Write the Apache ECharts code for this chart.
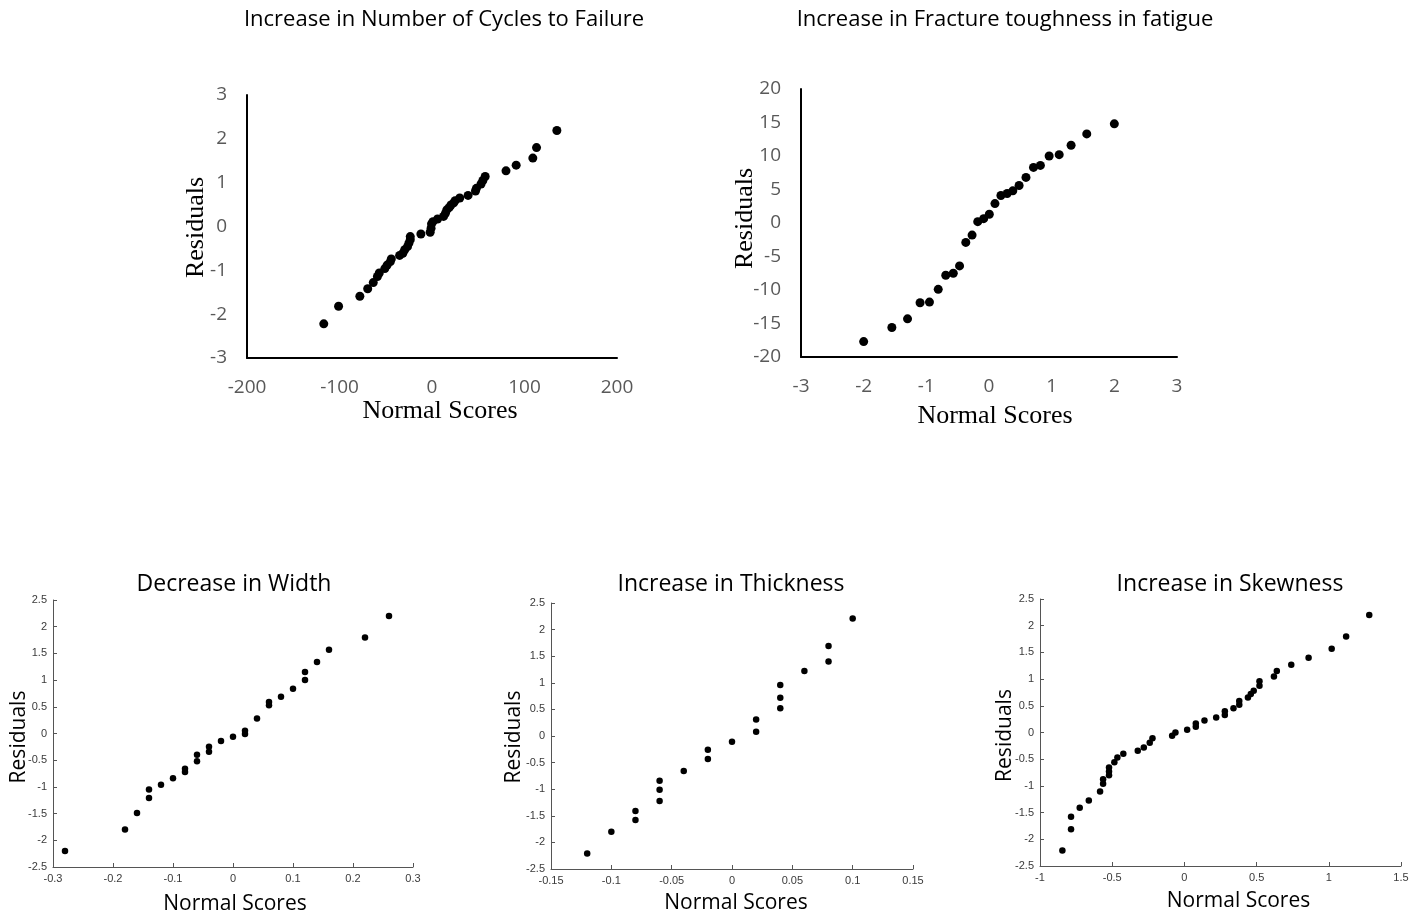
<!DOCTYPE html>
<html>
<head>
<meta charset="utf-8">
<script src="https://cdn.jsdelivr.net/npm/echarts@6/dist/echarts.min.js"></script>
<style>
  html, body { margin: 0; padding: 0; background: #fff; }
  #chart { width: 1424px; height: 917px; }
</style>
</head>
<body>
<div id="chart"></div>
<script>
// Normal probability plots of residuals for five responses.

// Increase in Number of Cycles to Failure
const cyclesScore = [-117, -101, -78, -69.5, -63.5, -59, -57, -51, -48.5, -45, -44, -35, -31.5, -29.5, -26.5,
  -25, -23.5, -23.5, -12, -2, -1, -0.5, 1, 6, 12.5, 14.5, 16, 18.5, 20.5, 23.5, 25, 30, 39, 47, 48,
  53, 55, 57.5, 80, 91, 109, 113, 135];
const cyclesResid = [-2.22, -1.82, -1.59, -1.42, -1.28, -1.14, -1.06, -0.96, -0.88, -0.80, -0.74, -0.66, -0.61, -0.53, -0.46,
  -0.38, -0.30, -0.23, -0.17, -0.13, -0.04, 0.06, 0.11, 0.17, 0.23, 0.30, 0.38, 0.43, 0.49, 0.54, 0.59, 0.65, 0.71, 0.81, 0.87,
  0.97, 1.05, 1.14, 1.27, 1.40, 1.56, 1.80, 2.19];

// Increase in Fracture toughness in fatigue
const toughScore = [-2.0, -1.55, -1.3, -1.1, -0.95, -0.81, -0.69, -0.57, -0.47, -0.37, -0.27, -0.18, -0.085, 0.005,
  0.095, 0.19, 0.29, 0.38, 0.48, 0.59, 0.71, 0.82, 0.96, 1.12, 1.31, 1.56, 2.0];
const toughResid = [-17.7, -15.6, -14.3, -11.9, -11.8, -9.9, -7.8, -7.5, -6.4, -2.9, -1.8, 0.2, 0.65, 1.3,
  2.9, 4.1, 4.4, 4.8, 5.6, 6.8, 8.3, 8.6, 10.0, 10.2, 11.6, 13.3, 14.8];

// Decrease in Width
const widthScore = [-0.28, -0.18, -0.16, -0.14, -0.14, -0.12, -0.10, -0.08, -0.08, -0.06, -0.06, -0.04, -0.04, -0.02,
  0, 0.02, 0.02, 0.04, 0.06, 0.06, 0.08, 0.10, 0.12, 0.12, 0.14, 0.16, 0.22, 0.26];
const widthResid = [-2.2, -1.8, -1.49, -1.05, -1.21, -0.96, -0.84, -0.66, -0.72, -0.40, -0.52, -0.25, -0.34, -0.14,
  -0.06, 0.05, -0.01, 0.28, 0.53, 0.59, 0.69, 0.84, 1.0, 1.15, 1.34, 1.57, 1.80, 2.2];

// Increase in Thickness
const thickScore = [-0.12, -0.10, -0.08, -0.08, -0.06, -0.06, -0.06, -0.04, -0.02, -0.02, 0, 0.02, 0.02, 0.04, 0.04, 0.04,
  0.06, 0.08, 0.08, 0.10];
const thickResid = [-2.21, -1.80, -1.41, -1.58, -0.84, -1.01, -1.22, -0.66, -0.26, -0.43, -0.11, 0.08, 0.31, 0.52, 0.72, 0.96,
  1.22, 1.40, 1.69, 2.21];

// Increase in Skewness
const skewScore = [-0.845, -0.785, -0.785, -0.725, -0.662, -0.584, -0.563, -0.563, -0.522, -0.522, -0.522, -0.485, -0.464,
  -0.423, -0.323, -0.281, -0.24, -0.221, -0.085, -0.062, 0.019, 0.079, 0.079, 0.139, 0.22, 0.28, 0.28, 0.34, 0.38, 0.38,
  0.44, 0.46, 0.48, 0.52, 0.52, 0.62, 0.64, 0.74, 0.86, 1.02, 1.12, 1.28];
const skewResid = [-2.21, -1.81, -1.58, -1.41, -1.275, -1.106, -0.96, -0.875, -0.80, -0.73, -0.656, -0.556, -0.47,
  -0.40, -0.344, -0.28, -0.19, -0.11, -0.0625, 0.0, 0.05, 0.11, 0.17, 0.225, 0.28, 0.33, 0.40, 0.456, 0.52, 0.59,
  0.656, 0.72, 0.78, 0.875, 0.96, 1.05, 1.15, 1.27, 1.40, 1.57, 1.80, 2.2];

const titles = ['Increase in Number of Cycles to Failure', 'Increase in Fracture toughness in fatigue',
  'Decrease in Width', 'Increase in Thickness', 'Increase in Skewness'];
const xName = 'Normal Scores';
const yName = 'Residuals';

const pairs = (xs, ys) => xs.map((x, i) => [x, ys[i]]);

// layout per panel: axis ranges [min, max, interval], grid box, axis-name gaps/shifts, title anchor
const panels = [
  { data: pairs(cyclesScore, cyclesResid), x: [-200, 200, 100], y: [-3, 3, 1],
    grid: { left: 247, top: 95, width: 370, height: 263 }, style: 'excel', title: [444, 20],
    xGap: 40, yGap: 38, xShift: 16, yShift: -2 },
  { data: pairs(toughScore, toughResid), x: [-3, 3, 1], y: [-20, 20, 5],
    grid: { left: 801, top: 89, width: 376, height: 268 }, style: 'excel', title: [1005, 20],
    xGap: 46, yGap: 43, xShift: 12, yShift: 9 },
  { data: pairs(widthScore, widthResid), x: [-0.3, 0.3, 0.1], y: [-2.5, 2.5, 0.5],
    grid: { left: 53, top: 600, width: 360, height: 267 }, style: 'matlab', title: [234, 584],
    xGap: 27, yGap: 23, xShift: 4, yShift: -7 },
  { data: pairs(thickScore, thickResid), x: [-0.15, 0.15, 0.05], y: [-2.5, 2.5, 0.5],
    grid: { left: 551, top: 603, width: 362, height: 266 }, style: 'matlab', title: [731, 584],
    xGap: 24, yGap: 26, xShift: 8, yShift: -2 },
  { data: pairs(skewScore, skewResid), x: [-1, 1.5, 0.5], y: [-2.5, 2.5, 0.5],
    grid: { left: 1040, top: 599, width: 361, height: 267 }, style: 'matlab', title: [1230, 584],
    xGap: 25, yGap: 24, xShift: 36, yShift: -6 }
];

const excelLabel = { color: '#595959', fontFamily: 'Open Sans', fontSize: 19, margin: 20 };
const matlabLabel = { color: '#3a3a3a', fontFamily: 'Liberation Sans', fontSize: 11, margin: 6 };

function axis(p, dir, idx) {
  const r = dir === 'x' ? p.x : p.y;
  const excel = p.style === 'excel';
  const shift = dir === 'x' ? p.xShift : p.yShift;
  return {
    type: 'value', gridIndex: idx, min: r[0], max: r[1], interval: r[2],
    name: dir === 'x' ? xName : yName,
    nameLocation: 'middle',
    nameGap: dir === 'x' ? p.xGap : p.yGap,
    nameMoveOverlap: false,
    nameTextStyle: Object.assign(
      excel
        ? { fontFamily: 'Liberation Serif', fontSize: 26, color: '#000' }
        : { fontFamily: 'Open Sans', fontSize: 21, color: '#000' },
      { padding: shift >= 0 ? [0, 0, 0, shift] : [0, -shift, 0, 0] }),
    axisLine: { show: true, onZero: false,
      lineStyle: excel ? { color: '#000', width: 2 } : { color: '#555', width: 1 } },
    axisTick: excel ? { show: false } : { show: true, inside: true, length: 4, lineStyle: { color: '#555' } },
    splitLine: { show: false },
    axisLabel: excel ? excelLabel : matlabLabel
  };
}

const option = {
  backgroundColor: '#fff',
  animation: false,
  grid: panels.map(p => Object.assign({ containLabel: false }, p.grid)),
  xAxis: panels.map((p, i) => axis(p, 'x', i)),
  yAxis: panels.map((p, i) => axis(p, 'y', i)),
  series: panels.map((p, i) => ({
    type: 'scatter', xAxisIndex: i, yAxisIndex: i, data: p.data,
    symbolSize: p.style === 'excel' ? 9 : 6.5,
    itemStyle: { color: '#000', opacity: 1 }
  })),
  graphic: panels.map((p, i) => ({
    type: 'text', x: p.title[0], y: p.title[1],
    style: { text: titles[i], fontFamily: 'Open Sans', fontSize: i < 2 ? 22 : 23, fill: '#000',
      textAlign: 'center', textVerticalAlign: 'middle' }
  }))
};

const chart = echarts.init(document.getElementById('chart'), null, { renderer: 'canvas' });
chart.setOption(option);
</script>
</body>
</html>
